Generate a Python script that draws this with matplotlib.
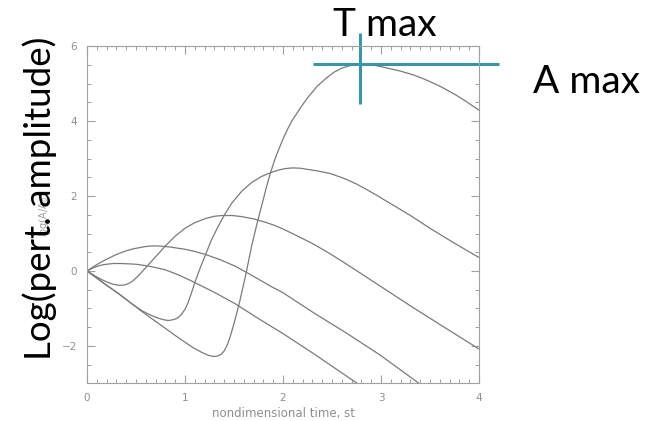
import matplotlib
matplotlib.use("Agg")
import matplotlib.pyplot as plt
import numpy as np

# perturbation growth curves, log amplitude vs nondimensional time
t_a = [0, 0.1, 0.2, 0.32, 0.45, 0.55, 0.66, 0.8, 0.9, 1.0, 1.08, 1.17, 1.24, 1.29, 1.33,
       1.37, 1.4, 1.43, 1.46, 1.49, 1.52, 1.55, 1.62, 1.68, 1.74, 1.79, 1.83, 1.87, 1.92,
       1.97, 2.01, 2.05, 2.09, 2.14, 2.18, 2.26, 2.35, 2.44, 2.52, 2.6, 2.7, 2.79, 2.9, 3.0,
       3.1, 3.2, 3.33, 3.42, 3.5, 3.6, 3.67, 3.76, 3.84, 3.92, 4.0]
y_a = [0, -0.19, -0.38, -0.6, -0.86, -1.06, -1.27, -1.53, -1.72, -1.9, -2.04, -2.17, -2.25,
       -2.28, -2.27, -2.22, -2.13, -1.98, -1.76, -1.49, -1.2, -0.9, -0.1, 0.67, 1.32, 1.82,
       2.23, 2.6, 3.0, 3.33, 3.58, 3.8, 4.0, 4.2, 4.36, 4.65, 4.93, 5.14, 5.3, 5.41, 5.49,
       5.52, 5.5, 5.45, 5.39, 5.33, 5.23, 5.14, 5.05, 4.93, 4.83, 4.7, 4.57, 4.43, 4.29]

t_b = [0, 0.1, 0.2, 0.32, 0.45, 0.56, 0.66, 0.73, 0.78, 0.83, 0.88, 0.92, 0.96, 1.0, 1.03,
       1.06, 1.1, 1.15, 1.21, 1.27, 1.34, 1.41, 1.48, 1.58, 1.68, 1.78, 1.87, 1.95, 2.02, 2.1,
       2.18, 2.25, 2.35, 2.48, 2.58, 2.65, 2.75, 2.82, 2.95, 3.05, 3.16, 3.3, 3.5, 3.75, 4.0]
y_b = [0, -0.19, -0.38, -0.6, -0.86, -1.06, -1.19, -1.26, -1.3, -1.32, -1.3, -1.26, -1.17,
       -1.02, -0.85, -0.63, -0.31, 0.05, 0.44, 0.83, 1.2, 1.53, 1.82, 2.13, 2.36, 2.52, 2.62,
       2.69, 2.73, 2.75, 2.74, 2.71, 2.67, 2.6, 2.51, 2.44, 2.32, 2.22, 2.03, 1.87, 1.7,
       1.48, 1.14, 0.74, 0.36]

t_c = [0, 0.05, 0.1, 0.15, 0.2, 0.26, 0.32, 0.37, 0.42, 0.47, 0.53, 0.6, 0.7, 0.8, 0.9,
       1.0, 1.1, 1.21, 1.3, 1.38, 1.48, 1.58, 1.7, 1.82, 1.91, 2.0, 2.15, 2.31, 2.48, 2.65,
       2.82, 2.99, 3.33, 3.67, 4.0]
y_c = [0, -0.08, -0.16, -0.23, -0.29, -0.35, -0.38, -0.38, -0.34, -0.26, -0.11, 0.09, 0.38,
       0.67, 0.93, 1.14, 1.29, 1.4, 1.46, 1.48, 1.48, 1.45, 1.39, 1.3, 1.22, 1.12, 0.93,
       0.72, 0.46, 0.18, -0.11, -0.4, -0.98, -1.54, -2.08]

t_d = [0, 0.05, 0.1, 0.16, 0.22, 0.3, 0.39, 0.47, 0.55, 0.62, 0.69, 0.77, 0.85, 0.92, 1.0,
       1.1, 1.21, 1.36, 1.51, 1.63, 1.75, 1.87, 2.0, 2.31, 2.65, 2.99, 3.4]
y_d = [0, 0.09, 0.17, 0.26, 0.34, 0.44, 0.53, 0.59, 0.63, 0.66, 0.67, 0.66, 0.64, 0.61, 0.58,
       0.52, 0.44, 0.3, 0.13, -0.04, -0.22, -0.4, -0.58, -1.11, -1.66, -2.24, -3.02]

t_e = [0, 0.05, 0.1, 0.15, 0.2, 0.27, 0.35, 0.43, 0.5, 0.58, 0.65, 0.72, 0.8, 0.93, 1.07,
       1.2, 1.3, 1.51, 1.75, 2.0, 2.31, 2.77]
y_e = [0, 0.07, 0.12, 0.16, 0.18, 0.2, 0.2, 0.19, 0.18, 0.15, 0.12, 0.08, 0.03, -0.1, -0.27,
       -0.44, -0.57, -0.87, -1.27, -1.67, -2.2, -3.02]

curves = [(t_a, y_a), (t_b, y_b), (t_c, y_c), (t_d, y_d), (t_e, y_e)]

axis_grey = "#a0a0a0"
label_grey = "#8e8e8e"
teal = "#3a96a6"

fig = plt.figure(figsize=(6.48, 4.21), dpi=100)
ax = fig.add_axes([0.1343, 0.0891, 0.6049, 0.8016])

for t, y in curves:
    ax.plot(t, y, color="#7a7a7a", lw=0.9)

ax.set_xlim(0, 4)
ax.set_ylim(-3, 6)
ax.set_xticks([0, 1, 2, 3, 4])
ax.set_xticks(np.arange(0, 4.01, 0.1), minor=True)
ax.set_yticks([-2, 0, 2, 4, 6])
ax.set_yticks(np.arange(-3, 6.01, 0.5), minor=True)
ax.set_yticklabels(["\u22122", "0", "2", "4", "6"])

for s in ax.spines.values():
    s.set_color(axis_grey)
    s.set_linewidth(0.8)
ax.tick_params(which="both", direction="in", top=True, right=True, color=axis_grey,
               labelcolor=label_grey, labelsize=7.5, pad=7)
ax.tick_params(which="major", length=6, width=0.8)
ax.tick_params(which="minor", length=3, width=0.7)
ax.set_xlabel("nondimensional time, st", color=label_grey, fontsize=8.5, labelpad=3)

# small original axis title, sits underneath the big label
fig.text(0.068, 0.49, "log(A/A$_0$)", rotation=90, color="#a0a0a0", fontsize=7,
         ha="center", va="center")

fig.text(0.062, 0.53, "Log(pert. amplitude)", rotation=90, fontsize=26.5,
         family="Lato", ha="center", va="center", color="black")

# mark the peak of the fastest-growing curve
i_max = int(np.argmax(y_a))
t_max, a_max = t_a[i_max], y_a[i_max]
ax.plot([2.31, 4.2], [a_max, a_max], color=teal, lw=2.2, clip_on=False,
        solid_capstyle="butt")
ax.plot([t_max, t_max], [4.45, 6.35], color=teal, lw=2.2, clip_on=False,
        solid_capstyle="butt")

fig.text(0.594, 0.94, "T max", fontsize=28, family="Lato", ha="center", va="center")
fig.text(0.905, 0.805, "A max", fontsize=28, family="Lato", ha="center", va="center")

fig.savefig("out.png", dpi=100)
